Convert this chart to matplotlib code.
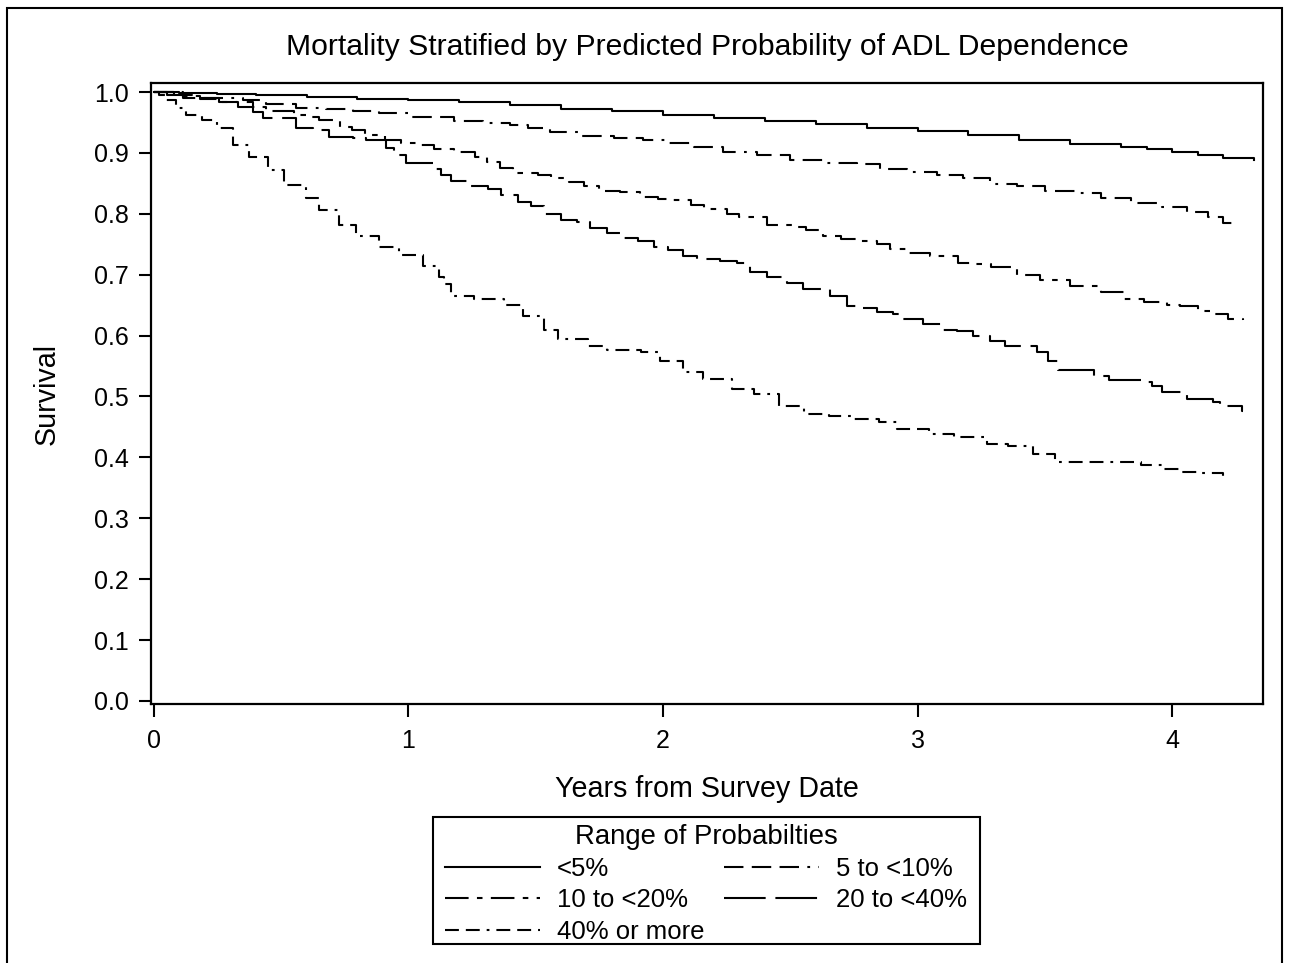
import matplotlib
matplotlib.use("Agg")
import matplotlib.pyplot as plt
from matplotlib.patches import Rectangle

plt.rcParams['font.family'] = ['Liberation Sans', 'DejaVu Sans']
plt.rcParams['lines.scale_dashes'] = False

# Kaplan-Meier style survival (years, survival)
t_lt5 = [0.0, 0.1, 0.25, 0.4, 0.6, 0.8, 1.0, 1.2, 1.4, 1.6, 1.8, 2.0, 2.2, 2.4,
         2.6, 2.8, 3.0, 3.2, 3.4, 3.6, 3.8, 3.9, 4.0, 4.1, 4.2, 4.32]
s_lt5 = [1.0, 0.999, 0.997, 0.995, 0.992, 0.989, 0.987, 0.983, 0.978, 0.972, 0.968,
         0.962, 0.957, 0.952, 0.947, 0.941, 0.936, 0.929, 0.922, 0.915, 0.909, 0.907,
         0.902, 0.896, 0.892, 0.889]

t_5to10 = [0.0, 0.114, 0.35, 0.44, 0.557, 0.675, 0.781, 0.883, 1.0, 1.178, 1.295,
           1.401, 1.468, 1.558, 1.676, 1.806, 1.923, 2.018, 2.12, 2.237, 2.371, 2.5,
           2.63, 2.764, 2.854, 2.96, 3.078, 3.18, 3.286, 3.39, 3.5, 3.62, 3.72, 3.84,
           3.96, 4.06, 4.14, 4.2, 4.24]
s_5to10 = [1.0, 0.99, 0.987, 0.98, 0.974, 0.972, 0.969, 0.966, 0.959, 0.953, 0.949,
           0.946, 0.941, 0.935, 0.928, 0.925, 0.921, 0.917, 0.91, 0.902, 0.897, 0.889,
           0.884, 0.881, 0.874, 0.869, 0.864, 0.859, 0.849, 0.845, 0.838, 0.834, 0.826,
           0.818, 0.811, 0.803, 0.795, 0.785, 0.779]

t_10to20 = [0.0, 0.08, 0.18, 0.26, 0.33, 0.44, 0.55, 0.6, 0.65, 0.73, 0.78, 0.83,
            0.91, 0.97, 1.04, 1.1, 1.18, 1.26, 1.31, 1.36, 1.41, 1.51, 1.56, 1.63,
            1.69, 1.75, 1.83, 1.91, 1.98, 2.04, 2.11, 2.16, 2.25, 2.3, 2.41, 2.51,
            2.56, 2.63, 2.7, 2.76, 2.84, 2.89, 2.96, 3.05, 3.16, 3.23, 3.29, 3.39,
            3.48, 3.6, 3.72, 3.81, 3.89, 3.98, 4.03, 4.1, 4.16, 4.22, 4.28]
s_10to20 = [1.0, 0.993, 0.988, 0.984, 0.975, 0.969, 0.962, 0.959, 0.954, 0.943, 0.938,
            0.93, 0.921, 0.917, 0.913, 0.907, 0.902, 0.894, 0.885, 0.876, 0.867, 0.864,
            0.859, 0.853, 0.845, 0.838, 0.835, 0.828, 0.825, 0.822, 0.815, 0.808, 0.80,
            0.795, 0.782, 0.779, 0.773, 0.764, 0.759, 0.755, 0.75, 0.743, 0.736, 0.73,
            0.72, 0.717, 0.712, 0.70, 0.692, 0.682, 0.672, 0.66, 0.655, 0.651, 0.648,
            0.64, 0.635, 0.627, 0.625]

t_20to40 = [0.0, 0.05, 0.15, 0.255, 0.389, 0.43, 0.557, 0.624, 0.687, 0.781, 0.832,
            0.911, 0.942, 0.99, 1.1, 1.127, 1.166, 1.233, 1.311, 1.362, 1.429, 1.48,
            1.531, 1.598, 1.664, 1.715, 1.782, 1.845, 1.9, 1.963, 2.018, 2.08, 2.135,
            2.226, 2.292, 2.343, 2.41, 2.489, 2.552, 2.606, 2.658, 2.724, 2.764, 2.842,
            2.905, 2.944, 3.023, 3.101, 3.156, 3.219, 3.286, 3.344, 3.47, 3.513, 3.553,
            3.694, 3.753, 3.878, 3.922, 3.961, 4.059, 4.161, 4.188, 4.275, 4.28]
s_20to40 = [1.0, 0.995, 0.99, 0.984, 0.967, 0.957, 0.941, 0.938, 0.926, 0.925, 0.921,
            0.908, 0.897, 0.884, 0.874, 0.864, 0.854, 0.845, 0.841, 0.831, 0.82, 0.812,
            0.799, 0.79, 0.787, 0.777, 0.769, 0.761, 0.756, 0.746, 0.74, 0.73, 0.725,
            0.722, 0.72, 0.704, 0.696, 0.687, 0.676, 0.676, 0.665, 0.648, 0.646, 0.638,
            0.635, 0.627, 0.619, 0.61, 0.607, 0.599, 0.591, 0.583, 0.573, 0.558, 0.543,
            0.534, 0.527, 0.524, 0.517, 0.507, 0.496, 0.491, 0.484, 0.476, 0.476]

t_40plus = [0.0, 0.02, 0.047, 0.086, 0.126, 0.19, 0.25, 0.31, 0.373, 0.45, 0.51,
            0.597, 0.648, 0.726, 0.793, 0.883, 0.962, 1.056, 1.119, 1.138, 1.166,
            1.256, 1.374, 1.452, 1.531, 1.586, 1.704, 1.782, 1.912, 1.99, 2.08, 2.159,
            2.273, 2.359, 2.457, 2.555, 2.654, 2.752, 2.85, 2.92, 3.046, 3.144, 3.274,
            3.356, 3.454, 3.541, 3.878, 3.961, 4.031, 4.118, 4.2]
s_40plus = [1.0, 0.995, 0.987, 0.974, 0.962, 0.954, 0.941, 0.913, 0.894, 0.872, 0.848,
            0.826, 0.807, 0.782, 0.763, 0.745, 0.733, 0.714, 0.696, 0.684, 0.665,
            0.66, 0.65, 0.632, 0.61, 0.594, 0.583, 0.576, 0.573, 0.558, 0.54, 0.529,
            0.512, 0.504, 0.484, 0.471, 0.468, 0.463, 0.458, 0.447, 0.439, 0.434, 0.422,
            0.419, 0.406, 0.393, 0.388, 0.381, 0.376, 0.375, 0.365]

labels = ['<5%', '5 to <10%', '10 to <20%', '20 to <40%', '40% or more']
x_ticks = [0, 1, 2, 3, 4]
y_ticks = [0.0, 0.1, 0.2, 0.3, 0.4, 0.5, 0.6, 0.7, 0.8, 0.9, 1.0]

series = [(t_lt5, s_lt5), (t_5to10, s_5to10), (t_10to20, s_10to20),
          (t_20to40, s_20to40), (t_40plus, s_40plus)]
dash_styles = [None,
               [14, 6, 14, 6, 14, 6, 2, 6],
               [17, 6, 4, 6],
               [30, 7],
               [10, 5, 10, 5, 2, 5]]

W, H = 1290, 963
fig = plt.figure(figsize=(W / 100, H / 100), dpi=100)
ax = fig.add_axes([151 / W, 1 - 704 / H, (1263 - 151) / W, (704 - 83) / H])

handles = []
for (t, s), lab, d in zip(series, labels, dash_styles):
    line, = ax.plot(t, s, drawstyle='steps-post', color='black', lw=1.5, label=lab)
    if d is not None:
        line.set_dashes(d)
    handles.append(line)

ax.set_xlim(-0.011, 4.357)
ax.set_ylim(-0.005, 1.0148)
ax.set_xticks(x_ticks)
ax.set_xticklabels([str(v) for v in x_ticks])
ax.set_yticks(y_ticks)
ax.set_yticklabels([f"{v:.1f}" for v in y_ticks])
ax.tick_params(axis='both', direction='out', length=9, width=1.5, labelsize=18, colors='black')
ax.tick_params(axis='x', pad=9)
ax.tick_params(axis='y', pad=7)
for sp in ax.spines.values():
    sp.set_linewidth(1.6)
    sp.set_color('black')

fig.text(0.5485, 1 - 47 / H, 'Mortality Stratified by Predicted Probability of ADL Dependence',
         ha='center', va='center', fontsize=21.7)
fig.text(0.548, 1 - 789 / H, 'Years from Survey Date', ha='center', va='center', fontsize=20.6)
fig.text(47 / W, 1 - 394 / H, 'Survival', ha='center', va='center', rotation=90, fontsize=20.6)

# legend fills column-wise, reorder so rows read like the original
order = [0, 2, 4, 1, 3]
leg = fig.legend([handles[i] for i in order], [labels[i] for i in order],
                 loc='upper left', bbox_to_anchor=(445 / W, 1 - 824 / H), ncol=2,
                 title='Range of Probabilties', fontsize=18.5, title_fontsize=19.8,
                 frameon=False, handlelength=3.7, handletextpad=0.66,
                 columnspacing=0.75, labelspacing=0.28, borderpad=0, borderaxespad=0)

# legend frame drawn separately so its padding matches the original
fig.patches.append(Rectangle((433 / W, 1 - 944 / H), (980 - 433) / W, (944 - 817) / H,
                             transform=fig.transFigure, fill=False, edgecolor='black',
                             linewidth=1.5))

# outer border around the whole graphic
fig.patches.append(Rectangle((7 / W, -0.05), (1282 - 7) / W, 1.05 - 8 / H,
                             transform=fig.transFigure, fill=False, edgecolor='black',
                             linewidth=1.5))

fig.savefig('out.png', dpi=100)
